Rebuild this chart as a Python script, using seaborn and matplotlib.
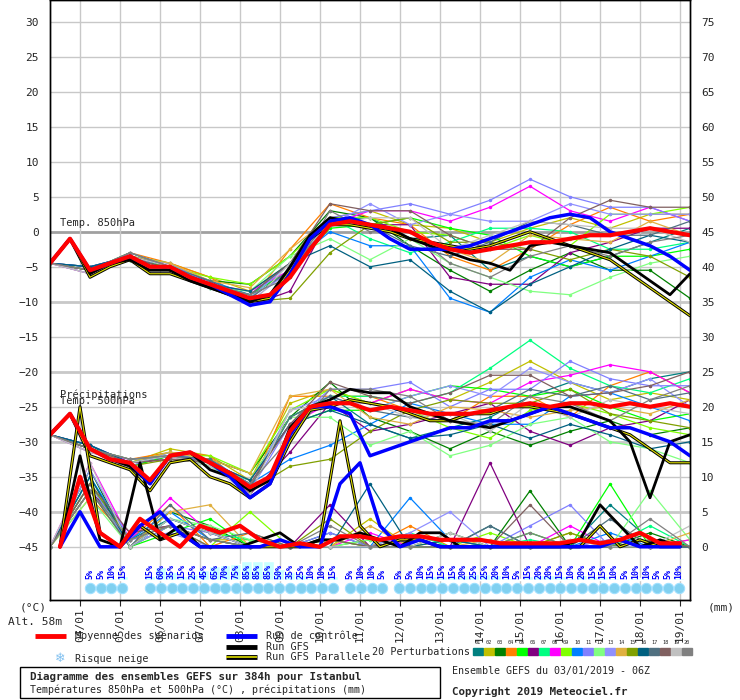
import matplotlib
matplotlib.use("Agg")
import matplotlib.pyplot as plt
import seaborn as sns
import pandas as pd
import numpy as np
from matplotlib.lines import Line2D
from matplotlib.patches import Rectangle

# ---- data -------------------------------------------------------------
days = ["04/01", "05/01", "06/01", "07/01", "08/01", "09/01", "10/01", "11/01",
        "12/01", "13/01", "14/01", "15/01", "16/01", "17/01", "18/01", "19/01"]

hours_12 = list(range(6, 391, 12))          # 03/01 06Z .. 19/01 06Z
hours_day = list(range(6, 391, 24))
hours_rr = list(range(12, 391, 12))[:32]

t850_mean = [-4.5, -1, -5.5, -4.5, -3.5, -5, -5, -6.5, -7.5, -8.5, -9.5, -9, -6.5, -2.5, 1, 1.5, 1,
             0.5, 0, -1.5, -2.5, -3, -2.5, -2, -1.5, -1.5, -1, -0.5, -0.5, 0, 0.5, 0, -0.5]
t850_ctrl = [-4.5, -1, -5.5, -4.5, -3.5, -5, -5, -6.5, -7.5, -9, -10.5, -10, -6, -1, 1.5, 2, 1,
             -1, -2.5, -2.5, -2.5, -2, -1, 0, 1, 2, 2.5, 2, 0, -1, -2, -3.5, -5.5]
t850_gfs = [-4.5, -1, -6, -4.5, -4, -5.5, -5.5, -7, -8, -9, -10, -9, -5, -0.5, 2, 1.5, 1,
            0.5, -1, -2, -3, -4, -4.5, -5.5, -2, -1.5, -2, -2.5, -3, -5, -7, -9, -6]
t850_par = [-4.5, -1, -6.5, -5, -4, -6, -6, -7, -8, -9, -10, -9.5, -5.5, -1, 1, 1, 0.5,
            0, -1, -1.5, -2, -2.5, -2, -1, 0, -1, -2, -3, -4, -6, -8, -10, -12]

t500_mean = [-29, -26, -31, -32.5, -33, -35.5, -32, -31.5, -33, -34.5, -36.5, -35, -28.5, -25, -24.5,
             -24.5, -25.5, -25, -25.5, -26, -26, -26, -25.5, -25, -24.5, -25, -24.5, -24.5, -25,
             -24.5, -25, -24.5, -25]
t500_ctrl = [-29, -26, -31, -32.5, -33, -36, -32, -31.5, -33, -35, -38, -36, -29, -25, -25, -26, -32,
             -31, -30, -29, -28, -28, -27, -27, -26, -25, -26, -27, -28, -28, -29, -30, -32]
t500_gfs = [-29, -26, -31, -32.5, -33.5, -36, -32, -31.5, -34, -35, -37, -35.5, -28, -25, -24, -22.5,
            -23, -23, -25, -26, -27, -27.5, -28, -27, -26, -25, -25, -26, -27, -30, -38, -30, -29]
t500_par = [-29, -26, -32, -33, -34, -37, -33, -32.5, -35, -36, -38, -36, -30, -25.5, -25, -24, -24.5,
            -25, -26, -27, -27, -26, -26, -25, -25, -25.5, -26, -27, -28, -29, -31, -33, -33]

rr_mean = [0, 10, 2, 0, 4, 2, 0, 3, 2, 3, 1, 0, 0.5, 0, 1.5, 1.5, 1, 1.5, 1.5, 1, 1, 1, 0.5, 0.5,
           0.5, 0.5, 1, 0.5, 1, 2, 0.5, 0.5]
rr_ctrl = [0, 5, 0, 0, 3, 5, 2, 0, 0, 0, 0, 1, 0, 0, 9, 12, 3, 0, 1, 0, 0, 0, 0, 0, 0, 0, 0, 0, 1, 0, 0, 0]
rr_gfs = [0, 13, 1, 0, 12, 1, 3, 0, 0, 0, 1, 2, 0, 1, 1, 2, 1, 0, 2, 2, 0, 0, 0, 0, 0, 0, 1, 6, 3, 0, 1, 0]
rr_par = [0, 20, 2, 0, 3, 1, 2, 0, 0, 0, 0, 0, 0, 1, 18, 3, 0, 1, 1, 0, 0, 0, 0, 0, 0, 0, 0, 3, 0, 1, 0, 0]

# perturbations: daily offsets from the mean (°C) and daily precip (mm)
t850_pert = [
    [0, 0, 0.5, 0, -0.5, 0.5, 1, 0.5, 1, -1, 2, -3, -2, -4, -3, -2, 1],
    [0, -0.5, 0, 0.5, 1, 1, 2, 1, 2, 1, 3, 1, 2, 3, 1, 2, 3],
    [0, 0.5, -0.5, 0, 0.5, 2, 3, 2, 1, -2, -3, -6, -4, -2, -5, -6, -9],
    [0, 0, 0.5, 0.5, 1, -0.5, 4, 3, 1, 1, -1, -3, -1, 2, 4, 1, 3],
    [0, 0, -0.5, 0, 0, 0.5, 1, -0.5, 0, 2, 3, 2, -2, -4, -3, -4, -2],
    [0, 0.5, 0, -0.5, 0.5, -1, -2, 1, 0, 1, -4, -5, -6, -2, -1, 0, 1],
    [0, 0, 0, 0.5, -0.5, 0, 2, 1, -2, -3, 1, 3, 2, 1, -2, -3, -1],
    [0, -0.5, 0.5, 0, 0, 1, 1, 0, 2, 3, 4, 6, 8, 4, 2, 3, 2],
    [0, 0, 0, 0, 1, 2, 3, 1, 1, 0, 2, 0, 1, -1, 3, 2, 4],
    [0, 0.5, 0, 0, 0.5, 0.5, 2, -1, -3, -2, -7, -9, -5, -3, -5, -4, -1],
    [0, 0, -0.5, 0.5, 0, -0.5, 1, 1, 2, 4, 5, 7, 9, 6, 4, 3, 2],
    [0, 0, 0.5, 0, -0.5, 1, 3, -2, -5, -1, -2, -4, -7, -8, -6, -5, -3],
    [0, -0.5, 0, 0, 0, 0, 2, 0, 3, 1, 5, 4, 3, 5, 3, 2, 3],
    [0, 0, 0, 0.5, 0.5, 1.5, 4, 1, 0, -1, 0, -2, 1, 0, -1, 1, 0],
    [0, 0, -0.5, -0.5, 0, -0.5, -3, -4, 0, 2, 1, 1, -1, -3, -2, -4, -6],
    [0, 0.5, 0, 0, 0, 1, 2, -3, -6, -4, -6, -9, -6, -4, -2, -1, -1],
    [0, 0, 0.5, 0, 0.5, 0, 1, 1, 0, -2, -1, 1, 3, 2, 0, -1, 2],
    [0, 0, 0, -0.5, 0, 0.5, 2, 3, 2, 3, 2, 0, -1, 3, 5, 3, 4],
    [0, -0.5, 0, 0, -0.5, -1, 2, 0, 1, 2, 0, 2, 3, 2, 1, 0, -1],
    [0, 0, 0.5, 0, 0, 0.5, 0, 2, -1, 0, -2, -4, -2, -1, -3, -2, 0],
]
t500_pert = [
    [0, 0, 0.5, 0, -0.5, 1, 2, 1, -2, -4, -2, -1, 1, 3, 2, 4, 5],
    [0, -0.5, 0, 1, 1, 1, 4, 2, 1, 3, 2, 4, 6, 3, 1, 2, 1],
    [0, 0.5, -0.5, 0, 0.5, 2, 2, 3, -1, -3, -5, -3, -6, -4, -2, -4, -3],
    [0, 0, 0.5, 0.5, 1, -0.5, 5, 1, 2, 0, -1, 2, 1, -2, 3, 5, 2],
    [0, 0, -0.5, 0, 0, 1, 1, -1, 0, 2, 4, 3, 1, 2, 0, -2, -1],
    [0, 0.5, 0, -0.5, 0.5, -1, -3, 0, -3, -2, 0, 1, -4, -6, -3, -2, 1],
    [0, 0, 0, 0.5, -0.5, 0, 2, 1, 2, 1, 3, 6, 9, 5, 3, 2, 4],
    [0, -0.5, 0.5, 0, 0, 1, 1, 0, 1, 3, 2, 1, 3, 4, 6, 5, 2],
    [0, 0, 0, 0, 1, 2, 3, 2, 1, 0, -2, -4, -1, 0, -1, -3, -4],
    [0, 0.5, 0, 0, 0.5, 0.5, -4, -6, -2, 1, 0, -2, -3, 1, 2, 0, -2],
    [0, 0, -0.5, 0.5, 0, -0.5, 1, 2, 3, 4, 1, 3, 2, 6, 4, 3, 3],
    [0, 0, 0.5, 0, -0.5, 1, 2, -2, -5, -3, -6, -5, -3, -2, -5, -6, -8],
    [0, -0.5, 0, 0, 0, 0, 3, 1, 0, 2, 4, 2, 5, 3, 2, 4, 0],
    [0, 0, 0, 0.5, 0.5, 2, 5, 2, -1, -2, 1, 0, -2, -1, 0, -1, 1],
    [0, 0, -0.5, -0.5, 0, -0.5, -5, -8, -3, 0, 2, 1, 0, 2, -1, -2, -3],
    [0, 0.5, 0, 0, 0, 1, 1, -1, -2, -4, -3, -2, -5, -3, -4, -6, -5],
    [0, 0, 0.5, 0, 0.5, 0, 2, 1, 0, -1, -1, 0, 2, 1, 3, 1, 2],
    [0, 0, 0, -0.5, 0, 0.5, 1, 3, 2, 1, 3, 5, 4, 1, 2, 3, 5],
    [0, -0.5, 0, 0, -0.5, -1, 3, 0, 1, -1, 0, -3, 0, -2, 1, 0, -1],
    [0, 0, 0.5, 0, 0, 0.5, -1, 2, 3, 2, -1, -2, 1, 0, -2, 1, 3],
]
rr_pert = [
    [0, 8, 1, 4, 2, 0, 0, 2, 0, 1, 0, 3, 0, 0, 6, 1, 0],
    [0, 9, 0, 3, 1, 1, 0, 0, 4, 0, 1, 0, 0, 2, 0, 0, 1],
    [0, 11, 0, 5, 3, 0, 0, 1, 0, 0, 2, 0, 8, 0, 0, 2, 0],
    [0, 7, 1, 6, 0, 2, 0, 0, 0, 3, 0, 0, 0, 1, 0, 0, 0],
    [0, 10, 0, 2, 4, 0, 0, 0, 1, 0, 0, 0, 2, 0, 9, 0, 0],
    [0, 8, 2, 3, 1, 0, 0, 6, 0, 1, 0, 12, 0, 0, 1, 0, 0],
    [0, 9, 0, 4, 2, 1, 0, 0, 0, 2, 0, 0, 1, 0, 0, 3, 0],
    [0, 12, 1, 7, 2, 0, 0, 0, 2, 0, 0, 0, 0, 3, 0, 0, 1],
    [0, 8, 0, 3, 0, 5, 0, 1, 0, 0, 0, 2, 0, 0, 0, 1, 0],
    [0, 10, 1, 5, 1, 0, 0, 0, 0, 7, 1, 0, 0, 0, 2, 0, 0],
    [0, 9, 0, 3, 2, 0, 0, 2, 0, 0, 0, 0, 3, 6, 0, 0, 0],
    [0, 7, 0, 4, 3, 1, 0, 0, 1, 0, 0, 0, 0, 0, 0, 8, 1],
    [0, 11, 1, 2, 0, 0, 0, 0, 0, 2, 5, 0, 0, 0, 1, 0, 0],
    [0, 8, 0, 5, 6, 0, 0, 0, 3, 0, 0, 1, 0, 0, 0, 0, 2],
    [0, 9, 1, 3, 1, 0, 0, 4, 0, 0, 0, 0, 0, 2, 0, 0, 0],
    [0, 10, 0, 4, 2, 0, 0, 0, 9, 0, 1, 0, 0, 0, 0, 0, 0],
    [0, 8, 0, 6, 1, 2, 0, 0, 0, 0, 0, 3, 0, 0, 4, 0, 0],
    [0, 9, 2, 3, 0, 0, 0, 1, 0, 1, 0, 0, 6, 0, 0, 1, 0],
    [0, 12, 0, 4, 2, 0, 0, 0, 0, 0, 2, 0, 0, 1, 0, 0, 3],
    [0, 8, 1, 3, 1, 0, 0, 3, 0, 0, 0, 0, 2, 0, 0, 4, 0],
]
pert_colors = ["#008080", "#c0c000", "#008000", "#ff8000", "#00ff00", "#800080", "#00ff80",
               "#ff00ff", "#80ff00", "#0080ff", "#8080ff", "#80ff80", "#9090ff", "#e0b040",
               "#80a000", "#006080", "#507080", "#806060", "#c0c0c0", "#808080"]

# snow risk (%) in four runs of consecutive steps, with the hour of the first step
snow_starts = [30, 66, 186, 215.4]
snow_groups = [
    [5, 5, 10, 15],
    [15, 60, 35, 15, 25, 45, 65, 70, 75, 85, 85, 85, 50, 35, 25, 10, 10, 15],
    [5, 10, 10, 5],
    [5, 5, 10, 15, 15, 15, 20, 25, 25, 20, 10, 5, 15, 20, 20, 15, 10, 20, 15, 15,
     10, 5, 10, 10, 5, 5, 10],
]

# ---- figure -----------------------------------------------------------
sns.set_style("white")
plt.rcParams['font.family'] = ['DejaVu Sans Mono']
fig = plt.figure(figsize=(7.4, 7.0), dpi=100)
ax = fig.add_axes([50 / 740, 100 / 700, 640 / 740, 600 / 700])
ymin, ymax = -52.6, 33.1
ax.set_xlim(6, 390)
ax.set_ylim(ymin, ymax)

for v in range(-45, 31, 5):
    thick = v in (0, -10, -20, -30, -40)
    ax.axhline(v, color="#a0a0a0" if v == 0 else "#c8c8c8", lw=2 if thick else 1, zorder=0)
for h in range(24, 385, 24):
    ax.axvline(h, color="#c8c8c8", lw=1, zorder=0)

# snow band
snow_h, snow_v = [], []
for h0, grp in zip(snow_starts, snow_groups):
    for i, p in enumerate(grp):
        snow_h.append(h0 + 6.45 * i)
        snow_v.append(p)
ax.bar(snow_h, [p / 85 * 2.6 for p in snow_v], bottom=-49.7, width=6.6, color="#c8ffff", zorder=1)
ax.scatter(snow_h, [-50.9] * len(snow_h), marker="o", s=55, color="#80d0f0",
           edgecolor="#a0e0ff", lw=0.8, zorder=2)
for h, p in zip(snow_h, snow_v):
    ax.text(h, -49.6, f"{p}%", rotation=90, ha="center", va="bottom", fontsize=6,
            color="#0000ff", weight="bold", zorder=3)

# perturbations
rows = []
for m in range(20):
    for k, h in enumerate(hours_day):
        rows.append(dict(member=m, h=h, t850=t850_mean[2 * k] + t850_pert[m][k],
                         t500=t500_mean[2 * k] + t500_pert[m][k], rr=rr_pert[m][k] - 45))
pert = pd.DataFrame(rows)
for col in ["t850", "t500", "rr"]:
    sns.lineplot(data=pert, x="h", y=col, hue="member", palette=pert_colors, lw=0.9,
                 marker="o", markersize=2.5, markeredgewidth=0, legend=False, ax=ax, zorder=4)

for (xs, y) in [(hours_12, t850_par), (hours_12, t500_par), (hours_rr, [r - 45 for r in rr_par])]:
    ax.plot(xs, y, color="black", lw=2.2, zorder=5)
    ax.plot(xs, y, color="#e0e000", lw=0.8, zorder=5)
for xs, y in [(hours_12, t850_gfs), (hours_12, t500_gfs), (hours_rr, [r - 45 for r in rr_gfs])]:
    ax.plot(xs, y, color="black", lw=2, zorder=6)
for xs, y in [(hours_12, t850_ctrl), (hours_12, t500_ctrl), (hours_rr, [r - 45 for r in rr_ctrl])]:
    ax.plot(xs, y, color="#0000ff", lw=2.5, zorder=6)
for xs, y in [(hours_12, t850_mean), (hours_12, t500_mean), (hours_rr, [r - 45 for r in rr_mean])]:
    ax.plot(xs, y, color="#ff0000", lw=3, zorder=7)

ax.text(12, 0.8, "Temp. 850hPa", fontsize=7.5)
ax.text(12, -24.6, "Temp. 500hPa", fontsize=7.5)
ax.text(12, -23.8, "Précipitations", fontsize=7.5)

ax.set_yticks(range(-45, 31, 5))
ax.tick_params(axis="y", labelsize=8, length=0, pad=8)
ax.set_xticks(range(24, 385, 24))
ax.set_xticklabels(days, rotation=90, fontsize=8)
ax.tick_params(axis="x", length=4, direction="out", bottom=True, pad=2)
ax.set_xlabel("")
ax.set_ylabel("")
ax2 = ax.twinx()
ax2.set_ylim(ymin + 45, ymax + 45)
ax2.set_yticks(range(0, 76, 5))
ax2.tick_params(axis="y", labelsize=8, length=0, pad=8)
for a in (ax, ax2):
    for s in a.spines.values():
        s.set_color("black")
        s.set_linewidth(1)

# ---- legend / footer ----------------------------------------------------
def fx(px):
    return px / 740

def fy(py):
    return 1 - py / 700

fig.text(fx(20), fy(607), "(°C)", fontsize=8, va="center")
fig.text(fx(8), fy(622), "Alt. 58m", fontsize=8, va="center")
fig.text(fx(708), fy(607), "(mm)", fontsize=8, va="center")

def legline(x0, x1, y, color, lw):
    fig.add_artist(Line2D([fx(x0), fx(x1)], [fy(y), fy(y)], color=color, lw=lw,
                          solid_capstyle="butt", transform=fig.transFigure))

legline(35, 66, 636, "#ff0000", 3.5)
fig.text(fx(75), fy(636), "Moyenne des scénarios", fontsize=7.3, va="center")
fig.text(fx(60), fy(659), "❄", fontsize=9, va="center", ha="center", color="#80c0f0",
         family="DejaVu Sans")
fig.text(fx(75), fy(659), "Risque neige", fontsize=7.3, va="center")
legline(226, 257, 636, "#0000ff", 3.5)
fig.text(fx(266), fy(636), "Run de contrôle", fontsize=7.3, va="center")
legline(226, 257, 647, "black", 3.5)
fig.text(fx(266), fy(647), "Run GFS", fontsize=7.3, va="center")
legline(226, 257, 657, "black", 3.5)
legline(226, 257, 657, "#e0e000", 1.2)
fig.text(fx(266), fy(657), "Run GFS Parallele", fontsize=7.3, va="center")
fig.text(fx(372), fy(652), "20 Perturbations", fontsize=7.3, va="center")
for i, c in enumerate(pert_colors):
    x0 = 473 + i * 11
    fig.add_artist(Rectangle((fx(x0), fy(655)), fx(10), 7 / 700, color=c,
                             transform=fig.transFigure))
    fig.text(fx(x0 + 5), fy(643), f"{i + 1:02d}", fontsize=3.8, ha="center", va="center")

fig.add_artist(Rectangle((fx(20), fy(698)), fx(420), 31 / 700, fill=False, ec="black", lw=1,
                         transform=fig.transFigure))
fig.text(fx(30), fy(677), "Diagramme des ensembles GEFS sur 384h pour Istanbul", fontsize=7.8,
         weight="bold", va="center")
fig.text(fx(30), fy(690), "Températures 850hPa et 500hPa (°C) , précipitations (mm)",
         fontsize=7.2, va="center")
fig.text(fx(452), fy(671), "Ensemble GEFS du 03/01/2019 - 06Z", fontsize=7.2, va="center")
fig.text(fx(452), fy(692), "Copyright 2019 Meteociel.fr", fontsize=7.8, weight="bold", va="center")

fig.savefig("out.png", dpi=100)
